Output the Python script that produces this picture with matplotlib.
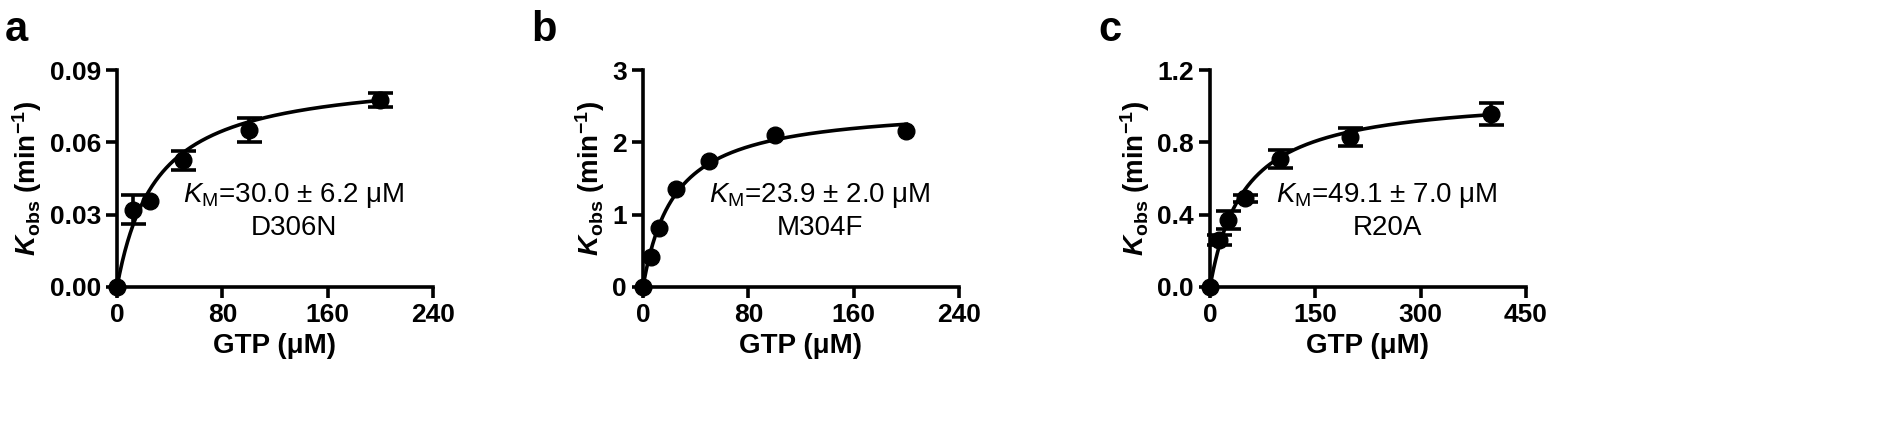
import numpy as np
import matplotlib
matplotlib.use("Agg")
import matplotlib.pyplot as plt

plt.rcParams['font.family'] = ['Liberation Sans', 'DejaVu Sans']
plt.rcParams['mathtext.fontset'] = 'custom'
plt.rcParams['mathtext.it'] = 'Liberation Sans:italic'
plt.rcParams['mathtext.bf'] = 'Liberation Sans:bold'
plt.rcParams['mathtext.bfit'] = 'Liberation Sans:bold:italic'
plt.rcParams['mathtext.rm'] = 'Liberation Sans'

xa = [0, 12.5, 25, 50, 100, 200]
ya = [0, 0.032, 0.0355, 0.0525, 0.065, 0.0775]
ea = [0, 0.006, 0, 0.004, 0.005, 0.003]
xb = [0, 6.25, 12.5, 25, 50, 100, 200]
yb = [0, 0.42, 0.81, 1.35, 1.74, 2.1, 2.15]
eb = [0, 0, 0, 0, 0, 0, 0]
xc = [0, 12.5, 25, 50, 100, 200, 400]
yc = [0, 0.26, 0.37, 0.49, 0.71, 0.83, 0.955]
ec = [0, 0.03, 0.05, 0.02, 0.05, 0.05, 0.06]
fits = [(0.089, 30.0), (2.52, 23.9), (1.07, 49.1)]
labels = ["$\\it{K}$$_\\mathrm{M}$=30.0 ± 6.2 μM\nD306N",
          "$\\it{K}$$_\\mathrm{M}$=23.9 ± 2.0 μM\nM304F",
          "$\\it{K}$$_\\mathrm{M}$=49.1 ± 7.0 μM\nR20A"]
xlims = [(0, 240), (0, 240), (0, 450)]
xticks = [[0, 80, 160, 240], [0, 80, 160, 240], [0, 150, 300, 450]]
ylims = [(0, 0.09), (0, 3), (0, 1.2)]
yticks = [[0, 0.03, 0.06, 0.09], [0, 1, 2, 3], [0, 0.4, 0.8, 1.2]]
yfmt = ["{:.2f}", "{:.0f}", "{:.1f}"]
letters = ["a", "b", "c"]
lefts = [117, 643, 1210]
xmaxfit = [200, 200, 400]

fig = plt.figure(figsize=(18.9, 4.32), dpi=100)
for i, (x, y, e) in enumerate([(xa, ya, ea), (xb, yb, eb), (xc, yc, ec)]):
    ax = fig.add_axes([lefts[i] / 1890, (432 - 287) / 432, 316 / 1890, 217 / 432])
    vmax, km = fits[i]
    xx = np.linspace(0, xmaxfit[i], 300)
    ax.plot(xx, vmax * xx / (km + xx), color='black', lw=2.6, clip_on=False)
    x = np.array(x); y = np.array(y); e = np.array(e)
    m = e > 0
    if m.any():
        ax.errorbar(x[m], y[m], yerr=e[m], fmt='none', ecolor='black', capsize=9,
                    elinewidth=2.6, capthick=2.6, clip_on=False, zorder=3)
    ax.plot(x, y, 'o', color='black', ms=12, clip_on=False, zorder=4)
    ax.set_xlim(*xlims[i]); ax.set_ylim(*ylims[i])
    ax.set_xticks(xticks[i]); ax.set_yticks(yticks[i])
    ax.set_yticklabels([yfmt[i].format(v) for v in yticks[i]])
    for s in ['top', 'right']:
        ax.spines[s].set_visible(False)
    for s in ['left', 'bottom']:
        ax.spines[s].set_linewidth(2.6)
    ax.tick_params(width=2.6, length=8, labelsize=19)
    for t in ax.get_xticklabels() + ax.get_yticklabels():
        t.set_fontweight('bold')
    ax.set_xlabel("GTP (μM)", fontsize=20, fontweight='bold')
    ax.set_ylabel("$\\mathbfit{K}_\\mathbf{obs}$ (min$^\\mathbf{-1}$)", fontsize=20, fontweight='bold')
    ax.text(0.56, 0.35, labels[i], transform=ax.transAxes, fontsize=20,
            ha='center', va='center', linespacing=1.25)
    fig.text((lefts[i] - 112) / 1890, 0.93, letters[i], fontsize=30, fontweight='bold', va='center')

fig.savefig("out.png", dpi=100)
